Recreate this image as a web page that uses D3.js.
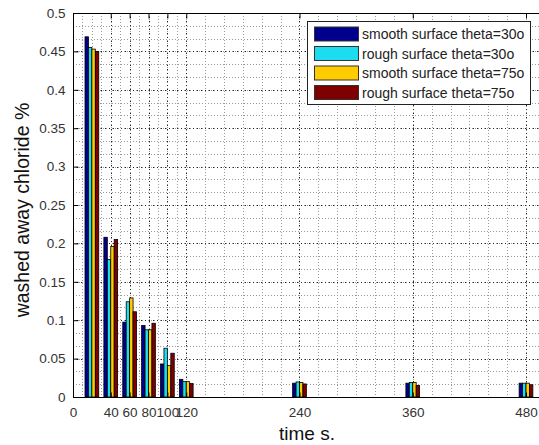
<!DOCTYPE html>
<html><head><meta charset="utf-8">
<script src="https://cdn.jsdelivr.net/npm/d3@7"></script>
<style>body{margin:0;background:#fff;overflow:hidden}svg{display:block}</style>
</head><body>
<script>
const times = [20, 40, 60, 80, 100, 120, 240, 360, 480];
const smooth30 = [0.469, 0.208, 0.0975, 0.093, 0.043, 0.023, 0.018, 0.018, 0.018];
const rough30  = [0.455, 0.179, 0.124, 0.0875, 0.0635, 0.020, 0.0196, 0.019, 0.018];
const smooth75 = [0.453, 0.196, 0.129, 0.0875, 0.041, 0.020, 0.019, 0.019, 0.018];
const rough75  = [0.450, 0.205, 0.111, 0.096, 0.057, 0.0175, 0.017, 0.015, 0.016];
const seriesNames = ["smooth surface theta=30o", "rough surface theta=30o", "smooth surface theta=75o", "rough surface theta=75o"];
const seriesColors = ["#00008c", "#1cdcf0", "#ffcc00", "#7f0000"];
const xTicks = [0, 40, 60, 80, 100, 120, 240, 360, 480];
const yTicks = [0, 0.05, 0.1, 0.15, 0.2, 0.25, 0.3, 0.35, 0.4, 0.45, 0.5];
const xLabel = "time s.";
const yLabel = "washed away chloride %";

(function () {
const allSeries = [smooth30, rough30, smooth75, rough75];
const W = 539, H = 445;
const pL = 73, pT = 13, pB = 397;
const x = d3.scaleLinear().domain([0, 500]).range([pL, pL + 500 * 453 / 480]);
const y = d3.scaleLinear().domain([0, 0.5]).range([pB, pT]);
const pR = x(500);

const svg = d3.select("body").append("svg").attr("width", W).attr("height", H);
svg.append("defs").append("clipPath").attr("id", "clip")
  .append("rect").attr("x", pL).attr("y", pT).attr("width", pR - pL).attr("height", pB - pT);

svg.append("rect").attr("x", pL).attr("y", pT).attr("width", pR - pL).attr("height", pB - pT).attr("fill", "#fff");

const g = svg.append("g").attr("clip-path", "url(#clip)");

const minorX = d3.range(0, 120, 10).concat(d3.range(120, 501, 20));
g.selectAll(".vmin").data(minorX).join("line")
  .attr("x1", d => Math.round(x(d)) + 0.5).attr("x2", d => Math.round(x(d)) + 0.5).attr("y1", pT).attr("y2", pB)
  .attr("stroke", "#999").attr("stroke-width", 1).attr("stroke-dasharray", "1,2");
g.selectAll(".vmaj").data(xTicks).join("line")
  .attr("x1", d => Math.round(x(d)) + 0.5).attr("x2", d => Math.round(x(d)) + 0.5).attr("y1", pT).attr("y2", pB)
  .attr("stroke", "#222").attr("stroke-width", 1).attr("stroke-dasharray", "1,3");
const minorY = d3.range(0, 0.5, 0.05 / 3);
g.selectAll(".hmin").data(minorY).join("line")
  .attr("x1", pL).attr("x2", pR).attr("y1", d => Math.round(y(d)) + 0.5).attr("y2", d => Math.round(y(d)) + 0.5)
  .attr("stroke", "#999").attr("stroke-width", 1).attr("stroke-dasharray", "1,2");
g.selectAll(".hmaj").data(yTicks).join("line")
  .attr("x1", pL).attr("x2", pR).attr("y1", d => Math.round(y(d)) + 0.5).attr("y2", d => Math.round(y(d)) + 0.5)
  .attr("stroke", "#222").attr("stroke-width", 1).attr("stroke-dasharray", "1,3");

const spacing = 20;
const groupW = Math.min(0.8, 4 / 5.5) * spacing;
const barW = groupW / 4;
allSeries.forEach((vals, si) => {
  g.selectAll(".b" + si).data(vals).join("rect")
    .attr("x", (d, i) => x(times[i] - groupW / 2 + si * barW))
    .attr("width", x(barW) - x(0))
    .attr("y", d => y(d))
    .attr("height", d => y(0) - y(d))
    .attr("fill", seriesColors[si])
    .attr("stroke", "#000").attr("stroke-width", 0.8);
});

svg.append("rect").attr("x", pL + 0.5).attr("y", pT + 0.5).attr("width", pR - pL).attr("height", pB - pT)
  .attr("fill", "none").attr("stroke", "#000").attr("stroke-width", 1);

const xAxis = d3.axisBottom(x).tickValues(xTicks).tickSizeInner(-5).tickSizeOuter(0).tickPadding(10).tickFormat(d3.format("d"));
const xa = svg.append("g").attr("transform", `translate(0,${pB + 0.5})`).call(xAxis);
const yAxis = d3.axisLeft(y).tickValues(yTicks).tickSizeInner(-5).tickSizeOuter(0).tickPadding(8).tickFormat(d => d === 0 ? "0" : String(+d.toFixed(2)));
const ya = svg.append("g").attr("transform", `translate(${pL + 0.5},0)`).call(yAxis);
const xt = svg.append("g").attr("transform", `translate(0,${pT + 0.5})`).call(d3.axisTop(x).tickValues(xTicks).tickSizeInner(-5).tickSizeOuter(0).tickFormat(""));
[xa, ya, xt].forEach(a => {
  a.select(".domain").remove();
  a.selectAll("line").attr("stroke", "#000");
  a.selectAll("text").attr("font-family", "Liberation Sans, Arial, sans-serif").attr("font-size", 13.5).attr("fill", "#333");
});

svg.append("text").attr("x", 307).attr("y", 440).attr("text-anchor", "middle")
  .attr("font-family", "Liberation Sans, Arial, sans-serif").attr("font-size", 19).attr("fill", "#111").text(xLabel);
svg.append("text").attr("transform", "translate(29,210) rotate(-90)").attr("text-anchor", "middle")
  .attr("font-family", "Liberation Sans, Arial, sans-serif").attr("font-size", 19.5).attr("fill", "#111").text(yLabel);

const lg = svg.append("g");
lg.append("rect").attr("x", 307.5).attr("y", 21.5).attr("width", 223).attr("height", 83)
  .attr("fill", "#fff").attr("stroke", "#222").attr("stroke-width", 1);
const rowY = [34, 53.5, 73, 92.5];
seriesNames.forEach((name, i) => {
  lg.append("rect").attr("x", 314.5).attr("y", rowY[i] - 7).attr("width", 44).attr("height", 14)
    .attr("fill", seriesColors[i]).attr("stroke", "#333").attr("stroke-width", 1);
  lg.append("text").attr("x", 362).attr("y", rowY[i] + 5)
    .attr("font-family", "Liberation Sans, Arial, sans-serif").attr("font-size", 14).attr("fill", "#222").text(name);
});
})();
</script>
</body></html>
